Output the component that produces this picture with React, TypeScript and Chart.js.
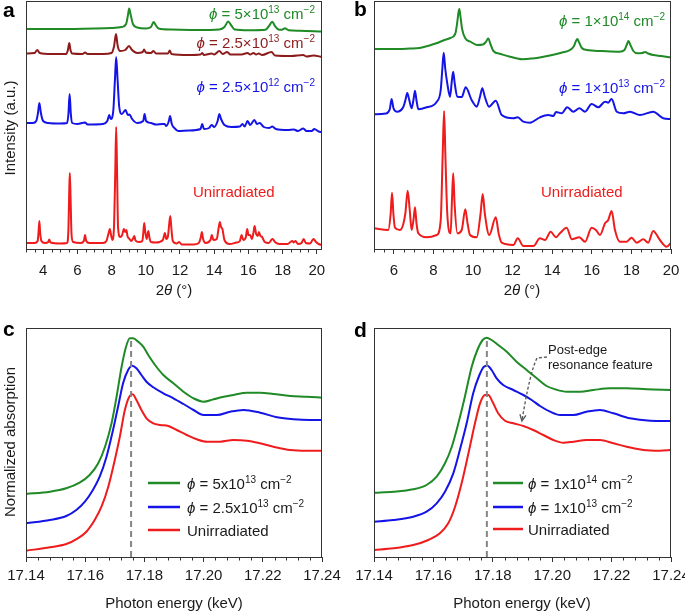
import React, { useEffect, useRef } from 'react';
import { Chart, registerables } from 'chart.js';

Chart.register(...registerables);

type P = [number, number];

// ---------------- data ----------------
// panel a : XRD, 2θ (°) vs intensity (a.u.)
const A_GREEN: P[] = [
  [3, 220], [5, 220], [7, 220.5], [8, 221], [8.6, 222], [8.85, 225], [8.95, 233], [9.03, 240.5], [9.12, 234], [9.25, 225], [9.5, 221.5],
  [10, 220.5], [10.3, 222], [10.46, 227], [10.58, 224], [10.75, 220.5], [11.5, 219.5], [13, 219], [14.3, 219.5], [14.6, 222], [14.82, 227.5],
  [14.98, 224], [15.2, 219.5], [16, 218.8], [17, 219.3], [17.2, 223], [17.39, 227.3], [17.55, 223], [17.8, 219.3], [18.0, 219.5], [18.13, 220.7],
  [18.35, 218.8], [19, 218.3], [20.3, 217.5],
];
const A_DARKRED: P[] = [
  [3, 195.5], [3.5, 196], [3.66, 199], [3.8, 196], [4.5, 195], [5.35, 195], [5.45, 199], [5.53, 206], [5.6, 199], [5.7, 195.5], [6.3, 195],
  [6.45, 196.5], [6.6, 195], [7.5, 195], [8.0, 196], [8.15, 203], [8.26, 215], [8.36, 203], [8.5, 198], [8.8, 199], [9.02, 203], [9.2, 199],
  [9.5, 196], [9.82, 197], [9.9, 199.5], [10.0, 196.5], [10.3, 196], [10.45, 198], [10.6, 195.5], [11.3, 195.5], [11.4, 198.5], [11.5, 195],
  [12.5, 194], [13.2, 194.5], [13.3, 196], [13.4, 194], [13.85, 195.5], [14.0, 194.5], [14.3, 198], [14.5, 195], [14.75, 197], [14.95, 194.5],
  [15.6, 194.5], [15.95, 196], [16.1, 194.5], [16.3, 196], [16.45, 194.5], [16.6, 195.5], [16.8, 194], [17.35, 197], [17.55, 193.5],
  [18.5, 193], [19.2, 194], [19.4, 192.5], [19.8, 193.5], [20.3, 192],
];
const A_BLUE: P[] = [
  [3, 126], [3.4, 126], [3.6, 128], [3.7, 136], [3.78, 146], [3.87, 136], [4.0, 128], [4.3, 126], [5.0, 125.5], [5.4, 126], [5.48, 135],
  [5.55, 155], [5.62, 135], [5.7, 126], [6.0, 125], [6.45, 126.5], [6.6, 124.5], [7.5, 125], [7.75, 128], [7.87, 134], [7.95, 130], [8.1, 138],
  [8.2, 170], [8.27, 192], [8.35, 170], [8.45, 142], [8.6, 135], [8.82, 139], [8.95, 134], [9.05, 134.5], [9.2, 130], [9.5, 126], [9.85, 128],
  [9.93, 135], [10.02, 128], [10.3, 126], [10.6, 124.5], [11.0, 125], [11.1, 125], [11.2, 123], [11.35, 128], [11.42, 133], [11.52, 125],
  [11.7, 120.5], [11.9, 118], [12.5, 118.5], [13.2, 120], [13.3, 125], [13.4, 120], [13.7, 121], [13.85, 124], [14.0, 122], [14.2, 128],
  [14.3, 135], [14.4, 130], [14.6, 124], [15.0, 122], [15.5, 122.5], [15.65, 125], [15.78, 122.5], [15.95, 128], [16.1, 124], [16.35, 129],
  [16.5, 125], [16.65, 126], [16.9, 122], [17.2, 121], [17.4, 122.5], [17.6, 120], [18.3, 119], [18.65, 119.5], [18.9, 118], [19.2, 120.5],
  [19.4, 118], [19.7, 118], [19.85, 120], [20.1, 117.5], [20.3, 117],
];
const A_RED: P[] = [
  [3, 6], [3.5, 6], [3.68, 8], [3.73, 16], [3.78, 28], [3.83, 16], [3.9, 8], [4.1, 6], [4.3, 7], [4.36, 9.5], [4.43, 6.5], [5.0, 5.5], [5.4, 6],
  [5.48, 20], [5.53, 60], [5.56, 76], [5.6, 55], [5.66, 15], [5.75, 7], [6.2, 6], [6.38, 8], [6.45, 14], [6.52, 8], [6.7, 6], [7.5, 6], [7.7, 8],
  [7.83, 16], [7.9, 20], [7.97, 14], [8.05, 9], [8.15, 25], [8.22, 80], [8.27, 122], [8.32, 80], [8.38, 22], [8.5, 12], [8.62, 14], [8.72, 20],
  [8.8, 17], [8.87, 19], [8.93, 13], [9.05, 10], [9.15, 8], [9.27, 11], [9.33, 13], [9.4, 8.5], [9.6, 7], [9.8, 8], [9.86, 17], [9.91, 26],
  [9.97, 17], [10.05, 10], [10.15, 18], [10.22, 11], [10.3, 7], [10.6, 6.5], [11.0, 9], [11.12, 16], [11.2, 10], [11.3, 13], [11.43, 33],
  [11.5, 20], [11.58, 8], [11.8, 5.5], [11.95, 7], [12.1, 4.5], [12.8, 4.5], [13.1, 6], [13.22, 12], [13.28, 17], [13.35, 10], [13.5, 6],
  [13.78, 9], [13.86, 14], [13.95, 9], [14.15, 10], [14.25, 20], [14.33, 27], [14.4, 22], [14.48, 20], [14.6, 9], [14.9, 5], [15.3, 6.5],
  [15.5, 8], [15.6, 14], [15.7, 9], [15.85, 12], [15.93, 20], [16.0, 14], [16.1, 14], [16.2, 10], [16.3, 17], [16.36, 23], [16.45, 15],
  [16.55, 13], [16.61, 17], [16.7, 13], [16.8, 12], [16.95, 7], [17.2, 6], [17.33, 9], [17.41, 10], [17.55, 7], [17.8, 5], [18.3, 5],
  [18.45, 7], [18.56, 8], [18.65, 6.5], [18.75, 8], [18.9, 5], [19.1, 6], [19.23, 10], [19.35, 6], [19.6, 5.5], [19.8, 10], [19.95, 7],
  [20.1, 5], [20.3, 4],
];

// panel b : XRD
const B_GREEN: P[] = [
  [5, 200], [6, 200], [6.8, 200.5], [7.3, 201], [7.8, 203.5], [8.15, 205.7], [8.5, 208.5], [8.85, 211], [9.1, 215], [9.2, 226], [9.27, 237],
  [9.31, 240], [9.37, 232], [9.45, 220], [9.6, 211], [9.9, 207], [10.2, 204], [10.5, 204.5], [10.65, 207], [10.77, 210.5], [10.88, 205],
  [11.03, 198], [11.4, 195], [11.87, 192.3], [12.5, 189.7], [13, 190.5], [13.5, 192], [14, 194], [14.5, 196.5], [14.9, 199], [15.1, 203],
  [15.2, 208], [15.27, 210], [15.35, 207], [15.5, 201], [15.75, 199], [16.5, 198], [17.4, 197.3], [17.65, 199], [17.78, 205], [17.85, 208],
  [17.95, 204], [18.1, 198], [18.3, 195.7], [18.55, 196], [18.69, 197], [18.85, 195.5], [19.1, 194], [19.5, 193], [20, 191.6],
];
const B_BLUE: P[] = [
  [5, 134.7], [5.6, 135.5], [5.8, 140], [5.89, 150], [5.98, 141], [6.15, 137.3], [6.48, 142], [6.6, 150], [6.68, 156], [6.78, 149],
  [6.9, 140.7], [7.0, 150], [7.07, 158.3], [7.15, 148], [7.24, 139.7], [7.66, 141.7], [8.17, 147.3], [8.37, 159], [8.45, 180], [8.52, 196.3],
  [8.6, 180], [8.7, 165.7], [8.84, 152.3], [8.93, 168], [9.0, 177.3], [9.08, 165], [9.21, 152.3], [9.43, 152], [9.63, 161.7], [9.93, 149],
  [10.19, 142.3], [10.35, 152], [10.47, 160.7], [10.6, 152], [10.81, 142.3], [11.15, 148.3], [11.45, 134], [12.04, 130.7], [12.26, 131.7],
  [12.54, 127.3], [12.88, 126.3], [13.38, 131.7], [13.8, 134], [14.06, 133], [14.19, 137], [14.48, 135.7], [14.76, 141.7], [15.07, 137.3],
  [15.37, 140.7], [15.66, 137.3], [15.99, 145], [16.33, 141.7], [16.67, 147.3], [16.83, 146.3], [17.0, 150], [17.26, 137.3], [17.59, 135.7],
  [17.93, 137.3], [18.43, 134], [19.1, 137.3], [19.61, 130.7], [20, 130],
];
const B_RED: P[] = [
  [5, 20.7], [5.72, 19], [5.84, 35], [5.91, 56.3], [5.98, 35], [6.06, 21.3], [6.31, 19], [6.58, 35], [6.7, 58.3], [6.8, 40], [6.9, 19],
  [7.0, 30], [7.07, 41.7], [7.15, 25], [7.24, 15.7], [7.66, 11.7], [8.17, 14], [8.37, 29], [8.47, 95], [8.54, 138], [8.61, 90], [8.7, 35.7],
  [8.87, 15.7], [8.94, 50], [9.0, 75.7], [9.07, 45], [9.21, 15.7], [9.43, 19], [9.61, 39.7], [9.73, 25], [9.85, 14], [10.19, 11.7],
  [10.38, 35], [10.49, 55], [10.6, 35], [10.82, 14], [11.15, 31.7], [11.3, 15], [11.45, 6.3], [12.04, 4], [12.26, 10.7], [12.54, 3],
  [13.05, 3], [13.38, 10.7], [13.64, 9], [13.92, 17.3], [14.19, 11.7], [14.39, 15.7], [14.73, 21.3], [14.99, 9.7], [15.37, 11.7], [15.66, 7.3],
  [15.99, 21.3], [16.21, 19], [16.41, 14], [16.67, 25.7], [16.83, 29], [17.0, 38], [17.17, 19], [17.42, 7.3], [17.76, 7.3], [18.01, 11.3],
  [18.27, 6.3], [18.6, 9.7], [18.85, 6.3], [19.1, 18], [19.44, 9], [19.78, 2.3], [20, 6.3],
];

// panel c : XANES, photon energy (keV) vs normalized absorption
const C_GREEN: P[] = [
  [17.14, 63], [17.1481, 65.3], [17.1536, 68.7], [17.1581, 74.3], [17.1615, 82], [17.1644, 93.7], [17.1667, 110.3], [17.1689, 133.7],
  [17.1706, 160.3], [17.1723, 190.3], [17.1738, 210.3], [17.1751, 218.7], [17.1762, 218.7], [17.1779, 215.3], [17.1796, 210.3],
  [17.1813, 202], [17.1836, 192], [17.1864, 182], [17.1898, 173.7], [17.1932, 165.3], [17.1966, 158.7], [17.2, 155.3], [17.2034, 157.7],
  [17.2068, 160.3], [17.2101, 162], [17.2146, 164.3], [17.2191, 164.3], [17.2236, 163], [17.2293, 161], [17.2349, 160.3], [17.24, 159.3],
];
const C_BLUE: P[] = [
  [17.14, 33.7], [17.1481, 37], [17.1536, 41], [17.157, 47], [17.1599, 55.3], [17.1626, 67], [17.1649, 80.3], [17.1672, 100.3],
  [17.1694, 127], [17.1711, 150.3], [17.1728, 173.7], [17.1745, 187], [17.1759, 191.3], [17.1773, 188.7], [17.179, 182], [17.1807, 175.3],
  [17.183, 169.7], [17.1864, 163.7], [17.1898, 158.7], [17.1932, 153], [17.1966, 147], [17.2, 142], [17.2045, 142], [17.209, 145.3],
  [17.2135, 147], [17.2191, 144.3], [17.2248, 139.7], [17.2304, 137.7], [17.236, 137], [17.24, 137],
];
const C_RED: P[] = [
  [17.14, 6.3], [17.1481, 9.7], [17.1536, 13], [17.1575, 18.7], [17.1604, 25.3], [17.1632, 37], [17.1655, 50.3], [17.1678, 70.3],
  [17.17, 97], [17.1717, 120.3], [17.1734, 147], [17.1749, 160.3], [17.176, 162.7], [17.1773, 157], [17.179, 147], [17.1807, 138.7],
  [17.183, 133.7], [17.1852, 132], [17.1881, 131], [17.1909, 127], [17.1943, 122], [17.1977, 117.7], [17.2011, 115.3], [17.2056, 115.3],
  [17.2101, 117], [17.2146, 116.3], [17.2191, 113.7], [17.2236, 110.3], [17.2293, 107], [17.2349, 106.3], [17.24, 106.3],
];

// panel d : XANES
const D_GREEN: P[] = [
  [17.14, 64.3], [17.1465, 65.3], [17.1532, 67.7], [17.1577, 72], [17.1611, 80.3], [17.1639, 93.7], [17.1662, 110.3], [17.1684, 133.7],
  [17.1706, 160.3], [17.1729, 190.3], [17.1748, 207], [17.1766, 217], [17.1779, 219.3], [17.1796, 217], [17.1818, 212], [17.1847, 205.3],
  [17.188, 195.3], [17.1914, 187], [17.1948, 178.7], [17.1981, 171], [17.201, 167.7], [17.2049, 165.3], [17.2094, 165.3], [17.2139, 167],
  [17.2195, 168.7], [17.2251, 168.7], [17.2318, 167.7], [17.24, 167],
];
const D_BLUE: P[] = [
  [17.14, 35.3], [17.1465, 37], [17.1532, 40.3], [17.1577, 45.3], [17.1611, 53.7], [17.1639, 65.3], [17.1667, 83.7], [17.1689, 107],
  [17.1712, 133.7], [17.1734, 163.7], [17.1755, 182], [17.177, 190.3], [17.1782, 191.3], [17.1796, 187], [17.1813, 178.7], [17.1835, 172],
  [17.1869, 167], [17.1903, 162], [17.1931, 157], [17.1959, 151], [17.1993, 145.3], [17.2027, 142], [17.2071, 142], [17.2116, 145.3],
  [17.2161, 147], [17.2206, 143.7], [17.2262, 138.7], [17.233, 136.3], [17.24, 136],
];
const D_RED: P[] = [
  [17.14, 7], [17.1465, 8.7], [17.1532, 12], [17.1583, 17], [17.1622, 23.7], [17.165, 33.7], [17.1673, 50.3], [17.1695, 73.7],
  [17.1718, 103.7], [17.174, 133.7], [17.1757, 153.7], [17.1774, 162], [17.1785, 162], [17.1799, 155.3], [17.1818, 143.7], [17.1841, 136.3],
  [17.1869, 133.7], [17.1903, 131], [17.1936, 127], [17.197, 122], [17.2004, 117], [17.2038, 114.3], [17.2071, 115.3], [17.2116, 117],
  [17.2161, 117], [17.2206, 113.7], [17.2251, 110.3], [17.2307, 107], [17.2363, 106.3], [17.24, 107],
];

// absorption-edge markers (keV) and their top (a.u.)
const EDGE_C = 17.1755;
const EDGE_D = 17.178;
const EDGE_TOP = 218;
// post-edge arrow in panel d: [keV, a.u.]
const ARROW_D: P[] = [[17.1982, 200], [17.1949, 199], [17.1925, 185], [17.1898, 136]];

// ---------------- styling ----------------
const FONT = '"Liberation Sans", Arial, Helvetica, sans-serif';
const AXIS = '#333333';
const INK = '#1a1a1a';
const GREEN = '#1f8a26';
const BLUE = '#1414e6';
const RED = '#ee1c1c';
const DARKRED = '#8c1c1c';
const GRAY = '#858585';

type Part = { t: string; sup?: boolean; it?: boolean; b?: boolean };
type TextItem = { parts: Part[]; x: number; y: number; size: number; color: string; align?: 'left' | 'right' | 'center'; rot?: boolean };
type Series = { data: P[]; color: string; smooth?: boolean; dash?: number[]; width?: number };
type LegendRow = { y: number; color: string; parts: Part[] };
interface Panel {
  box: { x: number; y: number; w: number; h: number };
  area: { l: number; t: number; r: number; b: number };
  xMin: number; xMax: number; yMax: number;
  major: number; minor: number; decimals: number; tickPad: number;
  series: Series[];
  texts: TextItem[];
  legend?: { x1: number; x2: number; tx: number; rows: LegendRow[] };
  arrow?: P[];
}

const PHI: Part = { t: 'ϕ', it: true };
const phiLabel = (mant: string, exp: string): Part[] => [PHI, { t: ' = ' + mant + '10' }, { t: exp, sup: true }, { t: ' cm' }, { t: '−2', sup: true }];
const TWO_THETA: Part[] = [{ t: '2' }, { t: 'θ', it: true }, { t: ' (°)' }];
const PHOTON: Part[] = [{ t: 'Photon energy (keV)' }];

const PANELS: Panel[] = [
  {
    box: { x: 0, y: 0, w: 342, h: 300 }, area: { l: 26, t: 1, r: 322, b: 249 },
    xMin: 3, xMax: 20.3, yMax: 248, major: 2, minor: 0.5, decimals: 0, tickPad: 8,
    series: [
      { data: A_GREEN, color: GREEN, smooth: true }, { data: A_DARKRED, color: DARKRED, smooth: true },
      { data: A_BLUE, color: BLUE, smooth: true }, { data: A_RED, color: RED, smooth: true },
    ],
    texts: [
      { parts: [{ t: 'a', b: true }], x: 3, y: 17, size: 21, color: '#000' },
      { parts: phiLabel('5×', '13'), x: 315, y: 18.5, size: 15, color: GREEN, align: 'right' },
      { parts: phiLabel('2.5×', '13'), x: 315, y: 47.5, size: 15, color: DARKRED, align: 'right' },
      { parts: phiLabel('2.5×', '12'), x: 315, y: 92, size: 15, color: BLUE, align: 'right' },
      { parts: [{ t: 'Unirradiated' }], x: 193, y: 197, size: 15, color: RED },
      { parts: TWO_THETA, x: 174, y: 295, size: 15, color: INK, align: 'center' },
      { parts: [{ t: 'Intensity (a.u.)' }], x: 11, y: 128, size: 15, color: INK, align: 'center', rot: true },
    ],
  },
  {
    box: { x: 342, y: 0, w: 343, h: 300 }, area: { l: 374, t: 1, r: 671, b: 249 },
    xMin: 5, xMax: 20, yMax: 248, major: 2, minor: 0.5, decimals: 0, tickPad: 8,
    series: [
      { data: B_GREEN, color: GREEN, smooth: true }, { data: B_BLUE, color: BLUE, smooth: true }, { data: B_RED, color: RED, smooth: true },
    ],
    texts: [
      { parts: [{ t: 'b', b: true }], x: 354, y: 16, size: 21, color: '#000' },
      { parts: phiLabel('1×', '14'), x: 665, y: 26, size: 15, color: GREEN, align: 'right' },
      { parts: phiLabel('1×', '13'), x: 665, y: 93, size: 15, color: BLUE, align: 'right' },
      { parts: [{ t: 'Unirradiated' }], x: 541, y: 197, size: 15, color: RED },
      { parts: TWO_THETA, x: 522, y: 295, size: 15, color: INK, align: 'center' },
    ],
  },
  {
    box: { x: 0, y: 300, w: 342, h: 311 }, area: { l: 26, t: 328, r: 322, b: 557 },
    xMin: 17.14, xMax: 17.24, yMax: 229, major: 0.02, minor: 0.004, decimals: 2, tickPad: 5,
    series: [
      { data: [[EDGE_C, 0], [EDGE_C, EDGE_TOP]], color: GRAY, dash: [6, 4] },
      { data: C_GREEN, color: GREEN, smooth: true }, { data: C_BLUE, color: BLUE, smooth: true }, { data: C_RED, color: RED, smooth: true },
    ],
    texts: [
      { parts: [{ t: 'c', b: true }], x: 3, y: 336, size: 21, color: '#000' },
      { parts: PHOTON, x: 174, y: 608, size: 15, color: INK, align: 'center' },
      { parts: [{ t: 'Normalized absorption' }], x: 11, y: 442, size: 15, color: INK, align: 'center', rot: true },
    ],
    legend: {
      x1: 148, x2: 180, tx: 187,
      rows: [
        { y: 483, color: GREEN, parts: phiLabel('5x', '13') },
        { y: 507, color: BLUE, parts: phiLabel('2.5x', '13') },
        { y: 530, color: RED, parts: [{ t: 'Unirradiated' }] },
      ],
    },
  },
  {
    box: { x: 342, y: 300, w: 343, h: 311 }, area: { l: 374, t: 328, r: 671, b: 557 },
    xMin: 17.14, xMax: 17.24, yMax: 229, major: 0.02, minor: 0.004, decimals: 2, tickPad: 5,
    series: [
      { data: [[EDGE_D, 0], [EDGE_D, EDGE_TOP]], color: GRAY, dash: [6, 4] },
      { data: D_GREEN, color: GREEN, smooth: true }, { data: D_BLUE, color: BLUE, smooth: true }, { data: D_RED, color: RED, smooth: true },
    ],
    texts: [
      { parts: [{ t: 'd', b: true }], x: 354, y: 337, size: 21, color: '#000' },
      { parts: PHOTON, x: 522, y: 608, size: 15, color: INK, align: 'center' },
      { parts: [{ t: 'Post-edge' }], x: 548, y: 354, size: 13, color: INK },
      { parts: [{ t: 'resonance feature' }], x: 548, y: 369, size: 13, color: INK },
    ],
    legend: {
      x1: 493, x2: 523, tx: 528,
      rows: [
        { y: 483, color: GREEN, parts: phiLabel('1x', '14') },
        { y: 507, color: BLUE, parts: phiLabel('1x', '13') },
        { y: 529, color: RED, parts: [{ t: 'Unirradiated' }] },
      ],
    },
    arrow: ARROW_D,
  },
];

// ---------------- drawing helpers ----------------
function fontOf(p: Part, size: number) {
  const s = p.sup ? Math.round(size * 0.68) : size;
  return `${p.it ? 'italic ' : ''}${p.b ? 'bold ' : ''}${s}px ${FONT}`;
}
function drawRich(ctx: CanvasRenderingContext2D, it: TextItem, ox: number, oy: number) {
  ctx.save();
  let w = 0;
  for (const p of it.parts) { ctx.font = fontOf(p, it.size); w += ctx.measureText(p.t).width; }
  ctx.translate(it.x - ox, it.y - oy);
  if (it.rot) ctx.rotate(-Math.PI / 2);
  let cx = it.align === 'right' ? -w : it.align === 'center' ? -w / 2 : 0;
  ctx.fillStyle = it.color;
  ctx.textAlign = 'left';
  ctx.textBaseline = it.rot ? 'middle' : 'alphabetic';
  for (const p of it.parts) {
    ctx.font = fontOf(p, it.size);
    ctx.fillText(p.t, cx, p.sup ? -it.size * 0.38 : 0);
    cx += ctx.measureText(p.t).width;
  }
  ctx.restore();
}

function drawDecor(chart: Chart, p: Panel) {
  const ctx = chart.ctx;
  const ca = chart.chartArea;
  const xs = chart.scales.x;
  const ys = chart.scales.y;
  const ox = p.box.x, oy = p.box.y;
  ctx.save();
  // frame
  ctx.strokeStyle = AXIS;
  ctx.lineWidth = 1;
  const L = Math.round(ca.left) + 0.5, T = Math.round(ca.top) + 0.5, R = Math.round(ca.right) - 0.5, B = Math.round(ca.bottom) + 0.5;
  ctx.strokeRect(L, T, R - L, B - T);
  // minor ticks
  const n0 = Math.ceil(p.xMin / p.minor - 1e-6), n1 = Math.floor(p.xMax / p.minor + 1e-6);
  ctx.beginPath();
  for (let k = n0; k <= n1; k++) {
    const v = k * p.minor;
    const r = v / p.major;
    if (Math.abs(r - Math.round(r)) < 1e-6) continue;
    const px = Math.round(xs.getPixelForValue(v)) + 0.5;
    ctx.moveTo(px, B);
    ctx.lineTo(px, B + 3);
  }
  ctx.stroke();
  // legend
  if (p.legend) {
    const lg = p.legend;
    for (const row of lg.rows) {
      ctx.strokeStyle = row.color;
      ctx.lineWidth = 2.5;
      ctx.beginPath();
      ctx.moveTo(lg.x1 - ox, row.y - oy);
      ctx.lineTo(lg.x2 - ox, row.y - oy);
      ctx.stroke();
      drawRich(ctx, { parts: row.parts, x: lg.tx, y: row.y + 5.5, size: 15, color: INK }, ox, oy);
    }
  }
  // arrow
  if (p.arrow) {
    const pts = p.arrow.map(([x, y]) => [xs.getPixelForValue(x), ys.getPixelForValue(y)]);
    ctx.strokeStyle = '#555';
    ctx.lineWidth = 1.3;
    ctx.setLineDash([3, 2]);
    ctx.beginPath();
    ctx.moveTo(pts[0][0], pts[0][1]);
    ctx.lineTo(pts[1][0], pts[1][1]);
    ctx.quadraticCurveTo(pts[2][0], pts[2][1], pts[3][0], pts[3][1]);
    ctx.stroke();
    ctx.setLineDash([]);
    const [tx, ty] = pts[3];
    const ang = Math.atan2(pts[3][1] - pts[2][1], pts[3][0] - pts[2][0]);
    ctx.beginPath();
    ctx.moveTo(tx - 7 * Math.cos(ang - 0.45), ty - 7 * Math.sin(ang - 0.45));
    ctx.lineTo(tx, ty);
    ctx.lineTo(tx - 7 * Math.cos(ang + 0.45), ty - 7 * Math.sin(ang + 0.45));
    ctx.stroke();
  }
  // texts
  for (const t of p.texts) drawRich(ctx, t, ox, oy);
  ctx.restore();
}

function PanelChart({ p }: { p: Panel }) {
  const ref = useRef<HTMLCanvasElement | null>(null);
  useEffect(() => {
    const canvas = ref.current;
    if (!canvas) return;
    const xAxisH = p.box.y + p.box.h - p.area.b;
    const chart = new Chart(canvas, {
      type: 'line',
      data: {
        datasets: p.series.map((s) => ({
          data: s.data as any,
          borderColor: s.color,
          borderWidth: s.width ?? 2,
          borderDash: s.dash,
          pointRadius: 0,
          fill: false,
          tension: s.smooth ? 0.4 : 0,
          cubicInterpolationMode: s.smooth ? 'monotone' : 'default',
          borderJoinStyle: 'round',
          borderCapStyle: 'butt',
        })),
      },
      options: {
        animation: false,
        responsive: false,
        devicePixelRatio: 1,
        events: [],
        layout: {
          padding: {
            left: p.area.l - p.box.x,
            top: p.area.t - p.box.y,
            right: p.box.x + p.box.w - p.area.r,
            bottom: 0,
          },
        },
        plugins: { legend: { display: false }, tooltip: { enabled: false }, title: { display: false } },
        scales: {
          x: {
            type: 'linear',
            min: p.xMin,
            max: p.xMax,
            border: { display: false },
            grid: { display: true, drawOnChartArea: false, drawTicks: true, tickLength: 5, color: AXIS, lineWidth: 1 },
            ticks: {
              stepSize: p.major,
              includeBounds: false,
              autoSkip: false,
              maxRotation: 0,
              padding: p.tickPad,
              color: INK,
              font: { family: FONT, size: 15 },
              callback: (v: any) => Number(v).toFixed(p.decimals),
            },
            afterFit: (scale: any) => {
              scale.height = xAxisH;
              scale.paddingLeft = 0;
              scale.paddingRight = 0;
            },
          },
          y: { type: 'linear', display: false, min: 0, max: p.yMax },
        },
      },
      plugins: [{ id: 'decor', afterDraw: (c: Chart) => drawDecor(c, p) }],
    } as any);
    return () => chart.destroy();
  }, [p]);
  return (
    <canvas
      ref={ref}
      width={p.box.w}
      height={p.box.h}
      style={{ position: 'absolute', left: p.box.x, top: p.box.y, width: p.box.w, height: p.box.h }}
    />
  );
}

export default function App() {
  return (
    <div style={{ position: 'absolute', left: 0, top: 0, width: 685, height: 611, background: '#fff', overflow: 'hidden' }}>
      {PANELS.map((p, i) => (
        <PanelChart key={i} p={p} />
      ))}
    </div>
  );
}
